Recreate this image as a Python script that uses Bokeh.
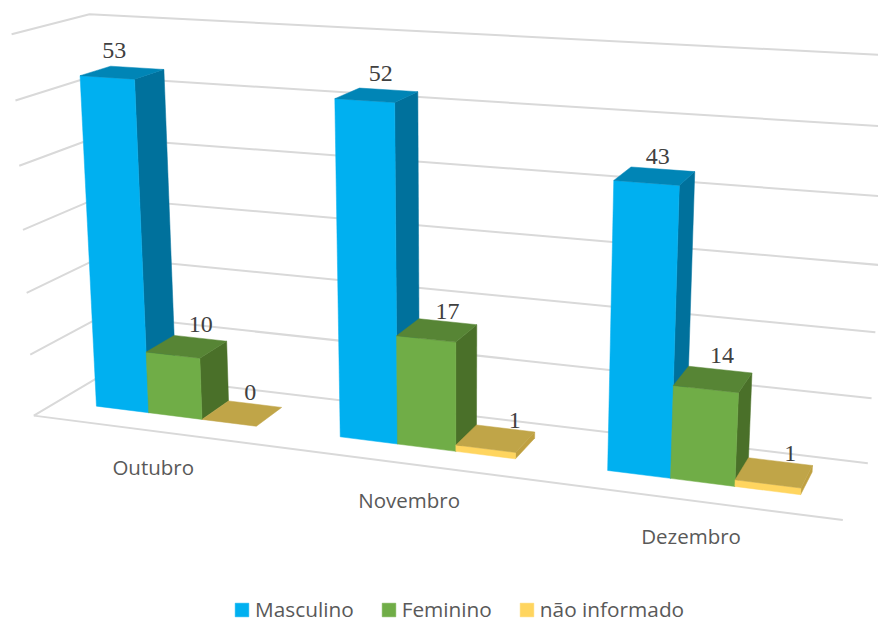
from bokeh.plotting import figure
from bokeh.models import Range1d, Legend, LegendItem
from bokeh.core.properties import value
from bokeh.embed import file_html
from bokeh.resources import INLINE

categories = ["Outubro", "Novembro", "Dezembro"]
series = ["Masculino", "Feminino", "não informado"]
masculino = [53, 52, 43]
feminino = [10, 17, 14]
nao_informado = [0, 1, 1]
values = [masculino, feminino, nao_informado]
value_ticks = [0, 10, 20, 30, 40, 50, 60]
VALUE_MAX = 60

# Perspective camera of the 3D chart: (category, value/max, depth) -> page pixels
CAM = [231.96677176, -22.77079987, 79.9993534, 33.31186101,
       11.56018889, -383.0767589, -18.12684541, 415.11867805,
       -0.0447681, -0.05000611, 0.0672673]
BAR_START, BAR_W, Z_FRONT, Z_BACK = 0.16634, 0.22201, 0.31731, 0.72531


def pr(x, v, z):
    V = v / VALUE_MAX
    w = CAM[8] * x + CAM[9] * V + CAM[10] * z + 1
    return ((CAM[0] * x + CAM[1] * V + CAM[2] * z + CAM[3]) / w,
            (CAM[4] * x + CAM[5] * V + CAM[6] * z + CAM[7]) / w)


GRID = "#D9D9D9"
FACES = [("#00B0F0", "#00719C", "#0085B6"),
         ("#70AD47", "#4A7029", "#578535"),
         ("#FFD55F", "#BFA040", "#C0A548")]
LABEL_DX = [[-8, 14, 8], [4, 10.5, 19], [3, 9, 16]]  # per category, per series
LABEL_DY = [[-22.5, -22, -21], [-22, -19, -18], [-19, -24, -19]]
CAT_DY = 35.5

p = figure(width=878, height=623, x_range=Range1d(0, 878), y_range=Range1d(623, 0),
           output_backend="svg", toolbar_location=None, min_border=0,
           outline_line_color=None, background_fill_color="white")
p.axis.visible = False
p.grid.visible = False


def line(pts):
    p.line([q[0] for q in pts], [q[1] for q in pts], line_color=GRID, line_width=2)


def face(pts, c):
    return p.patch([q[0] for q in pts], [q[1] for q in pts], fill_color=c,
                   line_color=c, line_width=0.5)


for t in value_ticks:
    line([pr(0, t, 0), pr(0, t, 1), pr(3, t, 1)])
line([pr(0, 0, 0), pr(3, 0, 0)])

front_faces = {}
for c in range(len(categories)):
    for b in range(len(series)):
        x0 = c + BAR_START + BAR_W * b
        x1 = x0 + BAR_W
        v = values[b][c]
        fc, sc, tc = FACES[b]
        if v > 0:
            face([pr(x1, 0, Z_FRONT), pr(x1, 0, Z_BACK), pr(x1, v, Z_BACK), pr(x1, v, Z_FRONT)], sc)
            front_faces[b] = face([pr(x0, 0, Z_FRONT), pr(x1, 0, Z_FRONT), pr(x1, v, Z_FRONT), pr(x0, v, Z_FRONT)], fc)
        face([pr(x0, v, Z_FRONT), pr(x1, v, Z_FRONT), pr(x1, v, Z_BACK), pr(x0, v, Z_BACK)], tc)

for c in range(len(categories)):
    for b in range(len(series)):
        v = values[b][c]
        q = pr(c + BAR_START + BAR_W * (b + 0.5), v, (Z_FRONT + Z_BACK) / 2)
        p.text([q[0] + LABEL_DX[c][b]], [q[1] + LABEL_DY[c][b]], text=[str(v)],
               text_font=value("Liberation Serif"), text_font_size="24px",
               text_color="#404040", text_align="center", text_baseline="middle")
    q = pr(c + 0.5, 0, 0)
    p.text([q[0]], [q[1] + CAT_DY], text=[categories[c]],
           text_font=value("Open Sans"), text_font_size="20.5px",
           text_color="#595959", text_align="center", text_baseline="middle")

legend = Legend(items=[LegendItem(label=value(s), renderers=[front_faces[i]]) for i, s in enumerate(series)],
                orientation="horizontal", location=(233, 0), padding=0, margin=0, spacing=26,
                glyph_width=17, glyph_height=17, label_standoff=5, border_line_color=None,
                background_fill_alpha=0, label_text_font="Open Sans", label_text_font_size="20.8px",
                label_text_color="#595959")
p.add_layout(legend)

open("out.html", "w").write(file_html(p, INLINE))
